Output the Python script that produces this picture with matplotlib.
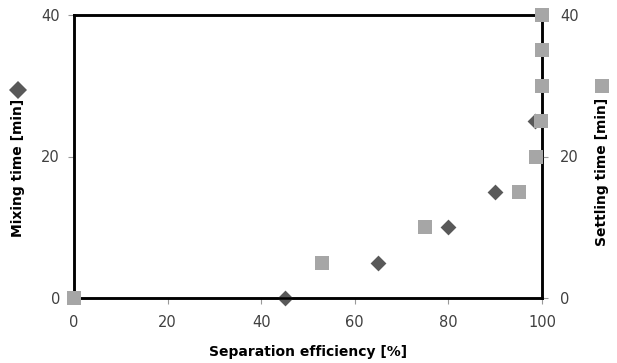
import matplotlib
matplotlib.use("Agg")
import matplotlib.pyplot as plt
from matplotlib.lines import Line2D

# Data
mix_eff = [45, 65, 80, 90, 98.5]
mix_time = [0, 5, 10, 15, 25]
settle_eff = [0, 53, 75, 95, 98.8, 99.8, 100, 100, 100]
settle_time = [0, 5, 10, 15, 20, 25, 30, 35, 40]
x_ticks = [0, 20, 40, 60, 80, 100]
y_ticks = [0, 20, 40]

dark = "#595959"
light = "#A6A6A6"
txt = "#404040"

fig = plt.figure(figsize=(6.17, 3.63), dpi=100)
ax = fig.add_axes([74/617, 1-298/363, (542-74)/617, (298-15)/363])
ax2 = ax.twinx()

ax.scatter(mix_eff, mix_time, marker="D", s=65, color=dark, zorder=3, clip_on=False, linewidths=0)
ax2.scatter(settle_eff, settle_time, marker="s", s=110, color=light, zorder=3, clip_on=False, linewidths=0)

for a in (ax, ax2):
    a.set_xlim(0, 100)
    a.set_ylim(0, 40)
    a.set_yticks(y_ticks)
    for s in a.spines.values():
        s.set_linewidth(1.8)
        s.set_color("black")
ax.set_xticks(x_ticks)
ax.tick_params(axis="x", direction="out", length=4, color="#999999", labelsize=10.5, labelcolor=txt, pad=8)
ax.tick_params(axis="y", direction="out", length=4, color="#999999", labelsize=10.5, labelcolor=txt, pad=6)
ax2.tick_params(axis="y", direction="out", length=4, color="#999999", labelsize=10.5, labelcolor=txt, pad=9)

ax.set_xlabel("Separation efficiency [%]", fontsize=10, fontweight="bold", labelpad=11)
ax.set_ylabel("")
ax2.set_ylabel("")

fig.text(18/617, 1-168/363, "Mixing time [min]", rotation=90, ha="center", va="center",
         fontsize=10, fontweight="bold")
fig.text(602/617, 1-172/363, "Settling time [min]", rotation=90, ha="center", va="center",
         fontsize=10, fontweight="bold")
fig.add_artist(Line2D([18/617], [1-90/363], marker="D", markersize=9, color=dark,
                      markeredgewidth=0, transform=fig.transFigure))
fig.add_artist(Line2D([602/617], [1-86/363], marker="s", markersize=10, color=light,
                      markeredgewidth=0, transform=fig.transFigure))

fig.savefig("out.png", dpi=100)
